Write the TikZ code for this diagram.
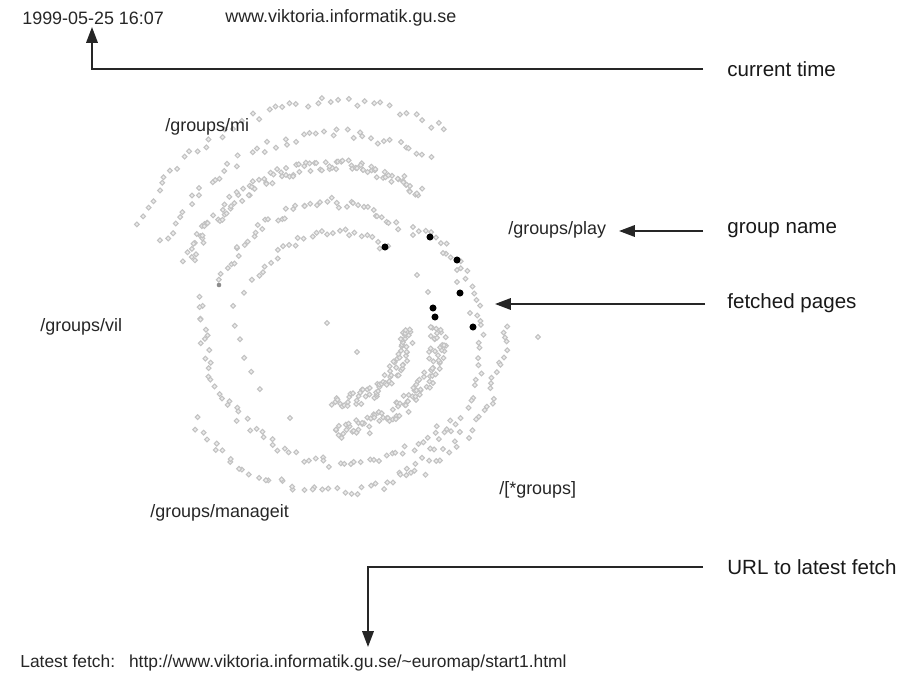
\documentclass[tikz,border=0pt]{standalone}
\usepackage{fontspec}
\setmainfont{Liberation Sans}
\usetikzlibrary{arrows.meta}
\begin{document}
\begin{tikzpicture}[x=0.02cm,y=-0.02cm,
  small/.style={font=\fontsize{10.2}{12}\selectfont, text=black!85, inner sep=0pt, anchor=west},
  big/.style={font=\fontsize{11.7}{14}\selectfont, text=black!90, inner sep=0pt, anchor=west},
  pointer/.style={draw=black!85, line width=1.1pt, -{Triangle[length=9pt,width=6.5pt]}},
  spiraldot/.style={draw=black!24, fill=black!8, line width=0.6pt},
  fetched/.style={fill=black}]

\useasboundingbox[fill=white] (0,0) rectangle (910,683);

% ---------- spiral of visited pages ----------
\pgfmathsetseed{11}
% arcs: start angle / end angle / start radius / end radius / count / radial spread
\foreach \aa/\ab/\ra/\rb/\n/\j in {
    155/62/228/212/42/5,   % outermost top arm
    157/62/197/179/44/5,   % second top arm
    160/58/167/146/110/6,  % dense top arm
    162/60/130/108/44/5,   % inner top arm
    158/60/97/80/26/4,     % innermost top arm
    50/-70/117/162/40/4,   % right arm through the fetched pages
    172/315/143/147/60/5,  % left and lower arm
    -2/-145/161/183/66/6,  % outer lower arm
    262/350/86/63/75/7,    % inner dense arc
    265/355/112/95/105/9,  % second inner dense arc
    165/220/108/112/6/4}   % sparse inner left arc
{
  \foreach \i in {0,...,\n} {
    \pgfmathsetmacro\ang{\aa+(\ab-\aa)*\i/\n+1.2*rand}
    \pgfmathsetmacro\rad{\ra+(\rb-\ra)*\i/\n+\j*rand}
    \pgfmathsetmacro\px{345+\rad*cos(\ang)}
    \pgfmathsetmacro\py{318-\rad*sin(\ang)}
    \draw[spiraldot] ({\px-2.4},\py) -- ++(2.4,2.4) -- ++(2.4,-2.4) -- ++(-2.4,-2.4) -- cycle;
  }
}
% scattered single pages
\foreach \px/\py in {327/323, 357/352, 290/418, 538/337, 417/275, 428/292,
                     413/227, 413/235, 443/253, 457/270, 457/282, 470/313}
  \draw[spiraldot] ({\px-2.4},\py) -- ++(2.4,2.4) -- ++(2.4,-2.4) -- ++(-2.4,-2.4) -- cycle;
\fill[black!45] (219,285) circle (1.3pt);

% fetched pages
\foreach \px/\py in {385/247, 430/237, 457/260, 460/293, 433/308, 435/317, 473/327}
  \fill[fetched] (\px,\py) circle (2pt);

% ---------- texts ----------
\node[small] (date) at (22,18) {1999-05-25 16:07};
\node[small] (host) at (225,18) {www.viktoria.informatik.gu.se};
\node[small] (gmi) at (165,127) {/groups/mi};
\node[small] (gplay) at (508,230) {/groups/play};
\node[small] (gvil) at (40,327) {/groups/vil};
\node[small] (gall) at (499,490) {/[*groups]};
\node[small] (gman) at (150,513) {/groups/manageit};
\node[small, font=\fontsize{9.9}{12}\selectfont] (latest) at (20,663)
  {Latest fetch:\hspace{0.8em}http://www.viktoria.informatik.gu.se/\textasciitilde euromap/start1.html};

\node[big] (ltime) at (727,69) {current time};
\node[big] (lgroup) at (727,230) {group name};
\node[big] (lfetch) at (727,303) {fetched pages};
\node[big] (lurl) at (727,567) {URL to latest fetch};

% ---------- pointers ----------
\coordinate (timestart) at (703,69);
\coordinate (timetip) at (92,27);
\coordinate (groupstart) at (703,231);
\coordinate (grouptip) at (619,231);
\coordinate (fetchstart) at (705,304);
\coordinate (fetchtip) at (495,304);
\coordinate (urlstart) at (703,567);
\coordinate (urltip) at (368,647);

\draw[pointer] (timestart) -| (timetip);
\draw[pointer] (groupstart) -- (grouptip);
\draw[pointer] (fetchstart) -- (fetchtip);
\draw[pointer] (urlstart) -| (urltip);
\end{tikzpicture}
\end{document}
